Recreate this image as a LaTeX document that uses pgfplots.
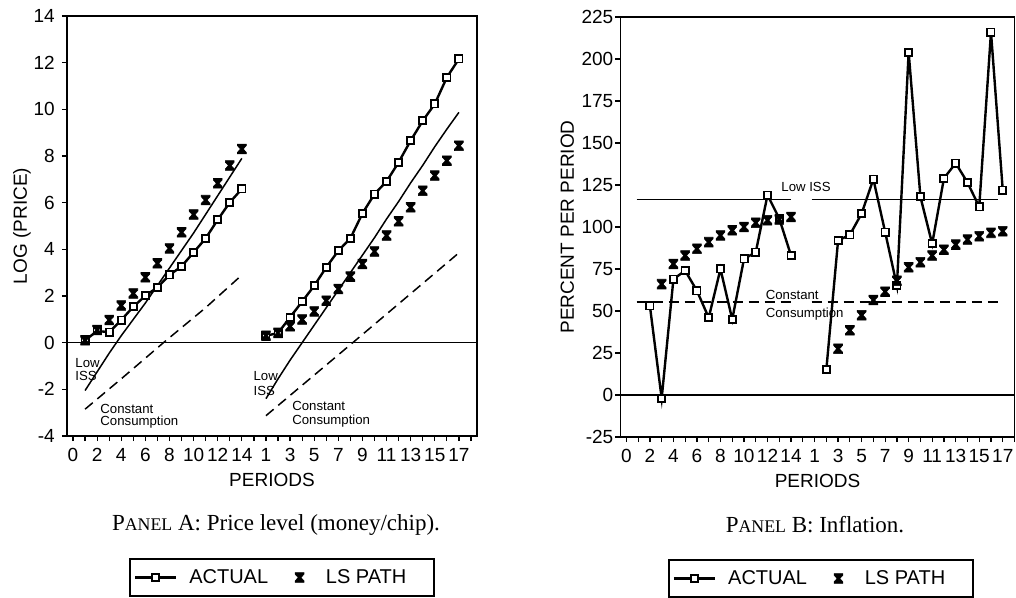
\documentclass[border=0pt]{standalone}
\usepackage{pgfplots}
\pgfplotsset{compat=1.18}
\usepackage{fontspec}
\setmainfont{Liberation Sans}
\newfontfamily\seriffont{Liberation Serif}

% bold hourglass-shaped cross used for the LS path
\pgfdeclareplotmark{lsx}{%
  \pgfpathmoveto{\pgfqpoint{-\pgfplotmarksize}{1.1\pgfplotmarksize}}%
  \pgfpathlineto{\pgfqpoint{\pgfplotmarksize}{1.1\pgfplotmarksize}}%
  \pgfpathlineto{\pgfqpoint{\pgfplotmarksize}{0.75\pgfplotmarksize}}%
  \pgfpathlineto{\pgfqpoint{0.3\pgfplotmarksize}{0pt}}%
  \pgfpathlineto{\pgfqpoint{\pgfplotmarksize}{-0.75\pgfplotmarksize}}%
  \pgfpathlineto{\pgfqpoint{\pgfplotmarksize}{-1.1\pgfplotmarksize}}%
  \pgfpathlineto{\pgfqpoint{-\pgfplotmarksize}{-1.1\pgfplotmarksize}}%
  \pgfpathlineto{\pgfqpoint{-\pgfplotmarksize}{-0.75\pgfplotmarksize}}%
  \pgfpathlineto{\pgfqpoint{-0.3\pgfplotmarksize}{0pt}}%
  \pgfpathlineto{\pgfqpoint{-\pgfplotmarksize}{0.75\pgfplotmarksize}}%
  \pgfpathclose
  \pgfusepathqfillstroke
}

\tikzset{
  note/.style={font=\fontsize{6.6}{7}\selectfont, anchor=base west, inner sep=0pt},
  caption/.style={font=\seriffont\fontsize{11.5}{13}\selectfont},
}

\pgfplotsset{
  panel/.style={
    scale only axis,
    anchor=south west,
    axis line style={line width=0.8pt},
    tick style={line width=0.6pt, black},
    tick align=outside,
    xtick pos=bottom, ytick pos=left,
    major tick length=2.6pt, minor tick length=2.6pt,
    xtick={0,2,...,32},
    xticklabels={0,2,4,6,8,10,12,14,1,3,5,7,9,11,13,15,17},
    minor xtick={1,3,...,33},
    tick label style={font=\fontsize{9.5}{10}\selectfont},
    label style={font=\fontsize{9.5}{10}\selectfont},
    /pgf/number format/assume math mode=true,
    xlabel={PERIODS},
    xlabel style={at={(axis description cs:0.5,-0.105)}, anchor=center},
    legend image code/.code={\draw[mark repeat=2,mark phase=2,##1]
      plot coordinates {(0cm,0cm) (0.36cm,0cm) (0.72cm,0cm)};},
    legend style={draw=black, line width=1pt, anchor=west,
      font=\fontsize{10}{12}\selectfont, legend columns=2,
      inner xsep=2pt, inner ysep=3pt,
      /tikz/every odd column/.append style={column sep=4pt},
      /tikz/every even column/.append style={column sep=11.5pt}},
  },
  actual/.style={black, line width=1.2pt, mark=square*, mark size=1.8pt,
    mark options={fill=white, line width=0.9pt, solid}},
  lspath/.style={black, only marks, mark=lsx, mark size=2.2pt,
    mark options={fill=black, line width=0.3pt}},
  iss/.style={black, line width=0.75pt},
  cons/.style={black, line width=0.75pt, dash pattern=on 5pt off 3pt},
}

\begin{document}
\begin{tikzpicture}
\useasboundingbox (0pt,0pt) rectangle (508pt,299pt);

% Panel A: log price level
\begin{axis}[panel, at={(33.5pt,81pt)}, width=205pt, height=210pt,
  xmin=-0.5, xmax=33.5, ymin=-4, ymax=14, ytick={-4,-2,...,14},
  ylabel={LOG (PRICE)},
  ylabel style={at={(axis description cs:-0.11,0.5)}, anchor=center},
  legend style={at={(0.151,-0.337)}}]
\addplot[actual] coordinates {(1,0.1)(2,0.5)(3,0.45)(4,0.97)(5,1.54)(6,2.01)(7,2.37)
  (8,2.9)(9,3.27)(10,3.87)(11,4.47)(12,5.27)(13,6.01)(14,6.59)};
\addlegendentry{ACTUAL}
\addplot[lspath] coordinates {(1,0.1)(2,0.54)(3,0.97)(4,1.59)(5,2.11)(6,2.80)(7,3.40)
  (8,4.04)(9,4.73)(10,5.49)(11,6.11)(12,6.83)(13,7.59)(14,8.3)};
\addlegendentry{\hspace*{5pt}LS PATH\hspace*{10pt}}
\addplot[actual, forget plot] coordinates {(16,0.3)(17,0.41)(18,1.09)(19,1.76)(20,2.44)
  (21,3.23)(22,3.94)(23,4.47)(24,5.54)(25,6.37)(26,6.91)(27,7.73)(28,8.66)(29,9.51)
  (30,10.23)(31,11.37)(32,12.16)};
\addplot[lspath, forget plot] coordinates {(16,0.3)(17,0.42)(18,0.70)(19,0.99)(20,1.34)
  (21,1.80)(22,2.30)(23,2.83)(24,3.37)(25,3.91)(26,4.59)(27,5.2)(28,5.80)(29,6.51)
  (30,7.16)(31,7.80)(32,8.44)};
\addplot[iss, forget plot] coordinates {(1,-2.05)(2,-1.25)(3,-0.45)(4,0.3)(5,1.0)(6,1.7)
  (7,2.45)(8,3.2)(9,3.95)(10,4.7)(11,5.5)(12,6.3)(13,7.1)(14,7.9)};
\addplot[iss, forget plot] coordinates {(16,-2.4)(17,-1.55)(18,-0.75)(19,0.0)(20,0.75)
  (21,1.5)(22,2.25)(23,3.0)(24,3.75)(25,4.5)(26,5.3)(27,6.05)(28,6.85)(29,7.6)
  (30,8.4)(31,9.15)(32,9.87)};
\addplot[cons, forget plot] coordinates {(1,-2.85)(4,-1.55)(7.5,0)(11,1.5)(14,2.9)};
\addplot[cons, forget plot] coordinates {(16,-3.13)(23.2,0)(32,3.85)};
\addplot[black, line width=0.7pt, forget plot] coordinates {(-0.5,0)(33.5,0)};
\node[note] at (axis cs:0.17,-1.07) {Low};
\node[note] at (axis cs:0.17,-1.63) {ISS};
\node[note] at (axis cs:2.24,-3.04) {Constant};
\node[note] at (axis cs:2.24,-3.55) {Consumption};
\node[note] at (axis cs:14.94,-1.63) {Low};
\node[note] at (axis cs:14.94,-2.27) {ISS};
\node[note] at (axis cs:18.15,-2.91) {Constant};
\node[note] at (axis cs:18.15,-3.50) {Consumption};
\end{axis}

% Panel B: inflation
\begin{axis}[panel, at={(310.25pt,80.5pt)}, width=197pt, height=210pt,
  xmin=-0.5, xmax=33, ymin=-25, ymax=225, ytick={-25,0,...,225},
  yticklabel style={xshift=2.5pt},
  ylabel={PERCENT PER PERIOD},
  ylabel style={at={(axis description cs:-0.135,0.5)}, anchor=center},
  legend style={at={(0.12,-0.337)}}]
\addplot[actual] coordinates {(2,53)(3,-2)(4,69)(5,74)(6,62)(7,46)(8,75)(9,45)(10,81)
  (11,85)(12,119)(13,105)(14,83)};
\addlegendentry{ACTUAL}
\addplot[lspath] coordinates {(3,66)(4,78)(5,83)(6,87)(7,91)(8,95)(9,98)(10,100)
  (11,102.5)(12,104)(13,104.5)(14,106)};
\addlegendentry{\hspace*{5pt}LS PATH\hspace*{10pt}}
\addplot[actual, forget plot] coordinates {(17,15)(18,92)(19,95.3)(20,108)(21,128.5)
  (22,97)(23,65)(24,204)(25,118)(26,90)(27,129)(28,138)(29,126.5)(30,112)(31,216)(32,122)};
\addplot[lspath, forget plot] coordinates {(18,27.5)(19,38.5)(20,47.5)(21,56.5)(22,61.5)
  (23,68)(24,76)(25,79)(26,83)(27,86.5)(28,89.5)(29,92.5)(30,94.5)(31,96.5)(32,97.5)};
\addplot[iss, forget plot] coordinates {(0.88,116.5)(14,116.5)};
\addplot[iss, forget plot] coordinates {(15.76,116.5)(31.6,116.5)};
\addplot[cons, forget plot] coordinates {(0.88,55.5)(14,55.5)};
\addplot[cons, forget plot] coordinates {(15.76,55.5)(31.8,55.5)};
\addplot[black, line width=0.7pt, forget plot] coordinates {(-0.5,0)(33,0)};
\node[note] at (axis cs:13.15,121.1) {Low ISS};
\node[note] at (axis cs:11.82,56.9) {Constant};
\node[note] at (axis cs:11.82,46.0) {Consumption};
\end{axis}

\node[caption] at (138pt,36.5pt)
  {P{\fontsize{8.9}{10}\selectfont ANEL} A: Price level (money/chip).};
\node[caption] at (407.5pt,36.5pt)
  {P{\fontsize{8.9}{10}\selectfont ANEL} B: Inflation.};
\end{tikzpicture}
\end{document}
